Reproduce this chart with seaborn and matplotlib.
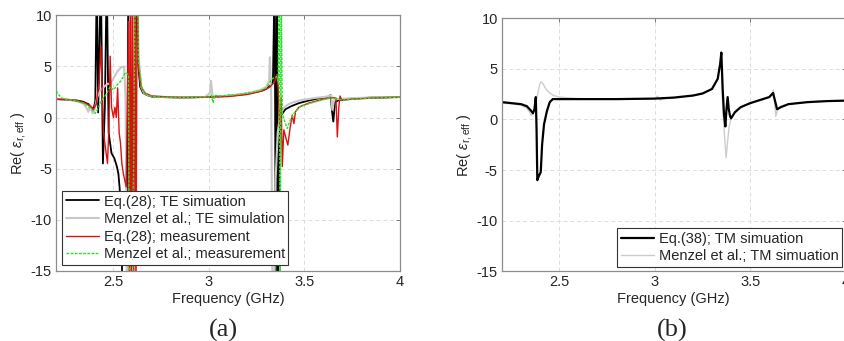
import matplotlib
matplotlib.use("Agg")
import matplotlib.pyplot as plt
import seaborn as sns

# ---- panel (a): TE ----
eq28_te_f = [2.20, 2.25, 2.30, 2.34, 2.37, 2.385, 2.395, 2.405, 2.413, 2.42, 2.434, 2.445, 2.455, 2.465,
             2.475, 2.49, 2.505, 2.518, 2.526, 2.532, 2.539, 2.548, 2.562, 2.570, 2.578, 2.586, 2.60, 2.615,
             2.631, 2.64, 2.655, 2.675, 2.70, 2.75, 2.85, 2.95, 3.05, 3.15, 3.22, 3.27, 3.30, 3.32, 3.335,
             3.344, 3.35, 3.356, 3.362, 3.368, 3.375, 3.385, 3.40, 3.43, 3.47, 3.52, 3.58, 3.62, 3.637,
             3.645, 3.651, 3.66, 3.68, 3.75, 3.85, 4.00]
eq28_te_v = [1.8, 1.75, 1.7, 1.55, 1.3, 1.0, 0.75, 1.6, 14, 0.5, 14, -4.5, 1.0, 14,
             -1.5, -3.5, -4.0, -4.8, -5.5, -6.8, -8.7, -18, -18, -16, 14, 16, 14, 12,
             5.0, 3.0, 2.4, 2.2, 2.05, 2.0, 1.95, 2.0, 2.05, 2.2, 2.4, 2.6, 2.8, 3.1, 3.5,
             14, -18, 14, -18, -3, 0.2, 0.4, 0.8, 1.1, 1.4, 1.65, 1.9, 2.0, 2.2,
             0.5, -0.4, 1.5, 1.7, 1.85, 1.95, 2.0]

menzel_te_f = [2.20, 2.25, 2.30, 2.34, 2.36, 2.369, 2.378, 2.39, 2.40, 2.415, 2.43, 2.45, 2.47, 2.483,
               2.50, 2.52, 2.54, 2.556, 2.563, 2.572, 2.585, 2.597, 2.61, 2.625, 2.632, 2.645, 2.66, 2.68,
               2.72, 2.80, 2.90, 2.98, 3.005, 3.011, 3.02, 3.05, 3.15, 3.22, 3.27, 3.30, 3.315, 3.319,
               3.326, 3.333, 3.342, 3.349, 3.36, 3.372, 3.383, 3.40, 3.427, 3.48, 3.55, 3.62, 3.64,
               3.646, 3.655, 3.67, 3.75, 3.85, 4.00]
menzel_te_v = [1.8, 1.75, 1.65, 1.4, 0.9, 0.55, 1.2, 0.4, 0.6, 2.0, 2.6, 3.0, 3.3, 3.3,
               3.8, 4.5, 4.9, 5.0, 2.0, -18, -18, 14, 16, 14, 6.0, 3.0, 2.4, 2.2,
               2.05, 2.0, 1.95, 2.0, 2.4, 3.6, 1.9, 2.05, 2.25, 2.45, 2.7, 3.0, 3.6, 5.9,
               2.0, -18, -18, -6.0, -1.5, 0.2, 0.73, 1.1, 1.4, 1.7, 1.9, 2.05, 2.2,
               0.75, 1.7, 1.8, 1.9, 1.95, 2.0]

eq28_meas_f = [2.20, 2.25, 2.30, 2.35, 2.38, 2.395, 2.41, 2.425, 2.434, 2.448, 2.462, 2.469, 2.476, 2.483,
               2.49, 2.50, 2.508, 2.515, 2.522, 2.53, 2.537, 2.544, 2.552, 2.567, 2.579, 2.583, 2.589,
               2.594, 2.60, 2.606, 2.612, 2.618, 2.624, 2.631, 2.645, 2.665, 2.70, 2.80, 2.90, 3.00,
               3.10, 3.20, 3.28, 3.32, 3.345, 3.354, 3.362, 3.37, 3.378, 3.384, 3.392, 3.40, 3.413,
               3.425, 3.436, 3.445, 3.453, 3.47, 3.52, 3.60, 3.65, 3.665, 3.672, 3.68, 3.686, 3.695,
               3.75, 3.85, 4.00]
eq28_meas_v = [1.8, 1.75, 1.65, 1.45, 1.1, 0.8, 1.3, 3.5, 7.0, -1.5, -3.5, -4.5, -1.0, 6.0,
               1.0, 0.0, 1.0, 0.0, 2.9, -1.5, -2.5, -4.5, -5.5, -6.8, 9.4, -18, 14,
               -18, 14, -18, 14, -18, 14, 5.0, 3.0, 2.4, 2.1, 2.0, 1.95, 2.0,
               2.05, 2.25, 2.6, 3.0, 3.5, 4.2, 3.0, -1.0, 2.0, -4.8, -1.2, -1.8, -2.7,
               -1.0, 0.25, -0.6, 0.57, 1.0, 1.4, 1.8, 1.95, 1.9, -1.9, 1.0, 2.1, 1.7,
               1.8, 1.9, 2.0]

menzel_meas_f = [2.20, 2.21, 2.23, 2.26, 2.30, 2.35, 2.38, 2.405, 2.42, 2.439, 2.46, 2.483, 2.50, 2.52,
                 2.54, 2.562, 2.579, 2.583, 2.60, 2.614, 2.626, 2.631, 2.649, 2.67, 2.693, 2.75, 2.85,
                 2.95, 3.00, 3.012, 3.022, 3.03, 3.05, 3.15, 3.22, 3.27, 3.30, 3.331, 3.355, 3.362,
                 3.368, 3.373, 3.378, 3.384, 3.395, 3.41, 3.425, 3.445, 3.48, 3.55, 3.62, 3.66, 3.675,
                 3.70, 3.80, 4.00]
menzel_meas_v = [2.6, 2.3, 1.9, 1.75, 1.65, 1.35, 0.9, 0.4, 0.9, 1.7, 2.2, 3.0, 2.7, 3.2,
                 3.6, 4.4, 4.2, -18, -18, 14, 14, 5.6, 2.9, 2.3, 2.1, 2.0, 1.95,
                 2.0, 2.0, 2.2, 1.45, 2.2, 2.1, 2.25, 2.45, 2.65, 2.9, 3.8, 4.0, 3.5,
                 14, -18, 14, 0.4, -0.3, -1.06, -0.3, 0.4, 1.1, 1.5, 1.85, 1.9, 1.8,
                 1.7, 1.85, 2.0]

# ---- panel (b): TM ----
eq38_tm_f = [2.20, 2.25, 2.30, 2.33, 2.35, 2.362, 2.37, 2.377, 2.381, 2.385, 2.393, 2.403, 2.41, 2.42,
             2.435, 2.45, 2.466, 2.50, 2.60, 2.80, 3.00, 3.10, 3.20, 3.25, 3.30, 3.33, 3.343, 3.349,
             3.356, 3.363, 3.37, 3.376, 3.382, 3.388, 3.395, 3.40, 3.42, 3.45, 3.50, 3.55, 3.60,
             3.615, 3.62, 3.628, 3.641, 3.66, 3.70, 3.80, 3.90, 4.00]
eq38_tm_v = [1.7, 1.6, 1.5, 1.3, 0.9, 0.6, 1.0, 2.2, -1.0, -6.0, -5.6, -5.2, -2.5, -0.5,
             0.8, 1.7, 2.0, 2.0, 2.0, 2.0, 2.05, 2.15, 2.35, 2.55, 3.0, 4.0, 5.5, 6.6,
             3.0, 0.5, -0.7, 1.0, 2.2, 1.0, 0.3, 0.1, 0.7, 1.2, 1.6, 1.9, 2.2,
             2.5, 2.6, 2.0, 1.0, 1.2, 1.5, 1.7, 1.8, 1.85]

menzel_tm_f = [2.20, 2.25, 2.30, 2.33, 2.345, 2.352, 2.36, 2.37, 2.38, 2.39, 2.398, 2.405, 2.415, 2.43,
               2.45, 2.47, 2.50, 2.60, 2.80, 3.00, 3.015, 3.022, 3.03, 3.05, 3.10, 3.20, 3.25, 3.30,
               3.33, 3.343, 3.349, 3.354, 3.36, 3.367, 3.374, 3.38, 3.39, 3.40, 3.42, 3.45, 3.50,
               3.55, 3.60, 3.615, 3.622, 3.628, 3.634, 3.645, 3.66, 3.70, 3.80, 3.90, 4.00]
menzel_tm_v = [1.6, 1.55, 1.4, 1.1, 0.7, 0.4, 0.5, 1.0, 1.8, 2.8, 3.5, 3.7, 3.5, 3.0,
               2.6, 2.35, 2.2, 2.05, 2.0, 2.05, 2.3, 2.0, 1.9, 2.05, 2.1, 2.35, 2.55, 3.0,
               4.0, 5.5, 6.5, 2.0, 0.0, -2.0, -3.8, -2.5, -0.7, 0.1, 0.7, 1.2, 1.6,
               1.9, 2.2, 2.5, 2.9, 2.0, 0.3, 1.0, 1.3, 1.5, 1.7, 1.8, 1.85]

x_ticks = [2.5, 3, 3.5, 4]
x_labels = ['2.5', '3', '3.5', '4']
y_ticks = [-15, -10, -5, 0, 5, 10]

sns.set_style("white")
plt.rcParams['font.family'] = ['Liberation Sans', 'DejaVu Sans']
plt.rcParams['mathtext.fontset'] = 'custom'
plt.rcParams['mathtext.rm'] = 'Liberation Sans'
plt.rcParams['mathtext.it'] = 'Liberation Sans:italic'
plt.rcParams['axes.unicode_minus'] = False

fig = plt.figure(figsize=(8.44, 3.41), dpi=100)
ax_a = fig.add_axes([0.0665, 0.206, 0.4074, 0.749])
ax_b = fig.add_axes([0.5948, 0.2044, 0.4071, 0.7426])


def style_axes(ax):
    ax.set_xlim(2.2, 4)
    ax.set_ylim(-15, 10)
    ax.set_xticks(x_ticks)
    ax.set_xticklabels(x_labels)
    ax.set_yticks(y_ticks)
    ax.grid(True, ls=(0, (4, 3)), color='#dcdcdc', lw=0.7)
    ax.tick_params(direction='in', length=3, width=0.6, color='#666666',
                   top=True, right=True, labelsize=10.5, pad=3)
    for s in ax.spines.values():
        s.set_color('#8c8c8c')
        s.set_linewidth(0.9)
    ax.set_xlabel('Frequency (GHz)', fontsize=10.5, labelpad=2)
    ax.set_ylabel(r'Re( $\varepsilon_{\mathrm{r,eff}}$ )', fontsize=10.5, labelpad=2)


def boxed_legend(ax, handles, labels, loc, anchor):
    leg = ax.legend(handles, labels, loc=loc, bbox_to_anchor=anchor, fontsize=10.5,
                    handlelength=2.3, handletextpad=0.3, labelspacing=0.25,
                    borderpad=0.25, borderaxespad=0, fancybox=False, framealpha=1)
    leg.get_frame().set_edgecolor('#333333')
    leg.get_frame().set_linewidth(0.8)


sns.lineplot(x=eq28_te_f, y=eq28_te_v, ax=ax_a, color='black', lw=1.3,
             estimator=None, sort=False, label='Eq.(28); TE simuation')
sns.lineplot(x=menzel_te_f, y=menzel_te_v, ax=ax_a, color='#c8c8c8', lw=1.5,
             estimator=None, sort=False, label='Menzel et al.; TE simulation')
sns.lineplot(x=eq28_meas_f, y=eq28_meas_v, ax=ax_a, color='#e01010', lw=1.0,
             estimator=None, sort=False, label='Eq.(28); measurement')
sns.lineplot(x=menzel_meas_f, y=menzel_meas_v, ax=ax_a, color='#22e622', lw=1.0,
             ls=(0, (2, 1)), estimator=None, sort=False, label='Menzel et al.; measurement')
style_axes(ax_a)
h, l = ax_a.get_legend_handles_labels()
boxed_legend(ax_a, h, l, 'lower left', (0.017, 0.022))

sns.lineplot(x=menzel_tm_f, y=menzel_tm_v, ax=ax_b, color='#cccccc', lw=1.0,
             estimator=None, sort=False, label='Menzel et al.; TM simuation')
sns.lineplot(x=eq38_tm_f, y=eq38_tm_v, ax=ax_b, color='black', lw=1.6,
             estimator=None, sort=False, label='Eq.(38); TM simuation')
style_axes(ax_b)
h, l = ax_b.get_legend_handles_labels()
boxed_legend(ax_b, h[::-1], l[::-1], 'lower right', (0.9895, 0.017))

fig.text(0.265, 0.032, '(a)', family='Liberation Serif', fontsize=19, ha='center', va='center')
fig.text(0.797, 0.032, '(b)', family='Liberation Serif', fontsize=19, ha='center', va='center')

fig.savefig('out.png', dpi=100)
